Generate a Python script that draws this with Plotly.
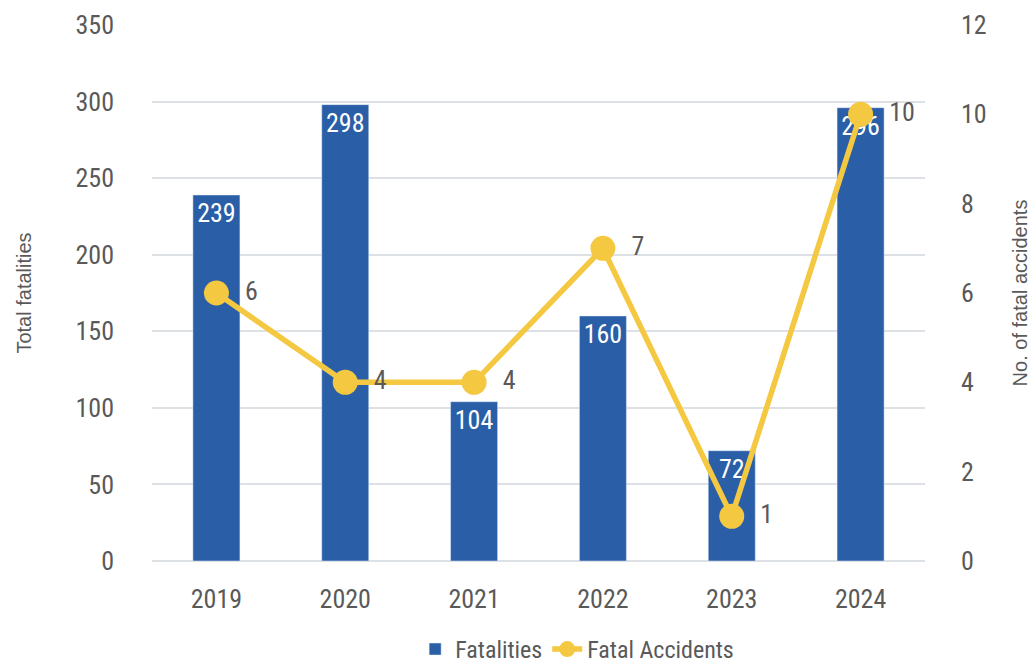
import plotly.graph_objects as go

years = ["2019", "2020", "2021", "2022", "2023", "2024"]
fatalities = [239, 298, 104, 160, 72, 296]
fatal_accidents = [6, 4, 4, 7, 1, 10]

BLUE = "#2a5fa8"
YELLOW = "#f5c842"
GRAY = "#595959"
FONT = "Roboto Condensed"
TFONT = "Liberation Sans"
FS = 26
PAD = "\u00a0\u00a0"

fig = go.Figure()
fig.add_trace(go.Bar(
    x=years, y=fatalities, name="Fatalities",
    marker=dict(color=BLUE),
    text=[str(v) for v in fatalities],
    textposition="inside", insidetextanchor="end",
    textfont=dict(color="white", size=FS, family=FONT),
    width=0.365,
))
fig.add_trace(go.Scatter(
    x=years, y=fatal_accidents, name="Fatal Accidents", yaxis="y2",
    mode="lines+markers+text",
    line=dict(color=YELLOW, width=5.5),
    marker=dict(color=YELLOW, size=25),
    text=[PAD + str(v) for v in fatal_accidents],
    textposition="middle right",
    textfont=dict(color=GRAY, size=FS, family=FONT),
    cliponaxis=False,
))

# page body has an 8px margin, so the figure is sized to fit inside the window
fig.update_layout(
    width=1028, height=657,
    margin=dict(l=144, r=111, t=17, b=104, autoexpand=False),
    plot_bgcolor="white", paper_bgcolor="white",
    font=dict(family=FONT, color=GRAY, size=FS),
    showlegend=True,
    legend=dict(orientation="h", x=0.55, xanchor="center", y=-0.165, yanchor="middle",
                font=dict(size=24, color=GRAY, family=FONT), traceorder="normal"),
    xaxis=dict(showgrid=False, showline=False, ticks="", tickfont=dict(size=FS),
               ticklabelstandoff=20),
    yaxis=dict(range=[0, 350], dtick=50, showgrid=True, gridcolor="#dde1e6", gridwidth=1.5,
               zeroline=True, zerolinecolor="#dde1e6", zerolinewidth=1.5,
               tickfont=dict(size=FS), ticklabelstandoff=37,
               title=dict(text="Total fatalities", font=dict(size=20, family=TFONT),
                          standoff=38)),
    yaxis2=dict(range=[0, 12], dtick=2, overlaying="y", side="right", showgrid=False,
                zeroline=False, tickfont=dict(size=FS), ticklabelstandoff=35,
                title=dict(text="No. of fatal accidents", font=dict(size=20, family=TFONT),
                           standoff=27)),
)

fig.write_html("out.html")
